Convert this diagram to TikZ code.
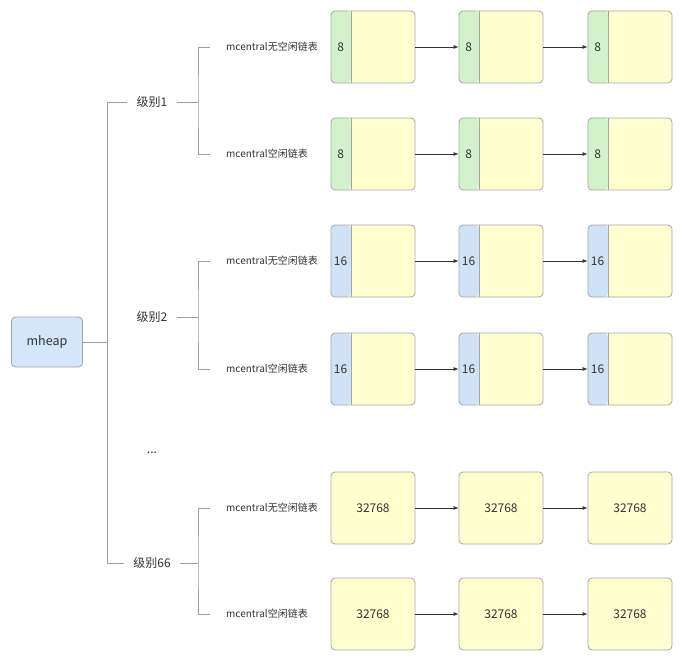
\documentclass[tikz,border=0pt]{standalone}
\usepackage{fontspec}
\setmainfont{Noto Sans CJK SC}
\usetikzlibrary{arrows.meta}
\definecolor{boxfill}{HTML}{FFFFD0}
\definecolor{boxline}{HTML}{A6A6A6}
\definecolor{greenstrip}{HTML}{D2F2CB}
\definecolor{bluestrip}{HTML}{CFE2F8}
\definecolor{rootfill}{HTML}{D3E6FA}
\definecolor{treeline}{HTML}{9E9E9E}
\definecolor{txt}{HTML}{333333}
\tikzset{
  blk/.style={draw=boxline, fill=boxfill, rounded corners=4pt, line width=0.8pt,
    minimum width=84pt, minimum height=72pt, inner sep=0pt, text=txt,
    font=\fontsize{12}{14}\selectfont},
  striped/.style={blk, path picture={
    \fill[#1] (path picture bounding box.north west) rectangle
      ([xshift=20pt]path picture bounding box.south west);
    \draw[boxline, line width=0.8pt] ([xshift=20pt]path picture bounding box.north west) --
      ([xshift=20pt]path picture bounding box.south west);}},
  striplabel/.style={text=txt, inner sep=0pt, font=\fontsize{12}{14}\selectfont},
  root/.style={draw=boxline, fill=rootfill, rounded corners=4pt, line width=0.8pt,
    minimum width=71pt, minimum height=50pt, text=txt, font=\fontsize{12.5}{14}\selectfont},
  level/.style={text=txt, inner xsep=9pt, inner ysep=2pt, font=\fontsize{12}{14}\selectfont},
  listname/.style={text=txt, anchor=west, inner xsep=16pt, inner ysep=2pt,
    font=\fontsize{10}{12}\selectfont},
  tree/.style={draw=treeline, line width=0.9pt},
  link/.style={draw=black!80, line width=0.8pt, -{Latex[length=5pt,width=4pt]}},
}
\begin{document}
\begin{tikzpicture}[x=1pt, y=-1pt]
\useasboundingbox[fill=white] (0,0) rectangle (682,658);

% root and size classes
\node[root] (mheap) at (47,342) {mheap};
\node[level] (l1) at (152,102) {级别1};
\node[level] (l2) at (152,317) {级别2};
\node[level] (ldots) at (152,453) {...};
\node[level] (l66) at (152,563) {级别66};

\coordinate (trunk) at (107,342);
\coordinate (t1) at (107,102);
\coordinate (t66) at (107,563);
\coordinate (b1) at (198,102);
\coordinate (b2) at (198,317);
\coordinate (b66) at (198,563);

% list names
\node[listname] (m1) at (210,47) {mcentral无空闲链表};
\node[listname] (m2) at (210,154) {mcentral空闲链表};
\node[listname] (m3) at (210,261) {mcentral无空闲链表};
\node[listname] (m4) at (210,369) {mcentral空闲链表};
\node[listname] (m5) at (210,508) {mcentral无空闲链表};
\node[listname] (m6) at (210,614) {mcentral空闲链表};

% tree connectors
\draw[tree] (mheap.east) -- (trunk);
\draw[tree] (l1.west) -- (t1) -- (t66) -- (l66.west);
\draw[tree] (l1.east) -- (b1);
\draw[tree] (l2.east) -- (b2);
\draw[tree] (l66.east) -- (b66);
\draw[tree] (m1.west) -| (b1) |- (m2.west);
\draw[tree] (m3.west) -| (b2) |- (m4.west);
\draw[tree] (m5.west) -| (b66) |- (m6.west);

% span lists: size class 8
\foreach \r/\y in {1/47, 2/154}{
  \node[striped=greenstrip] (r\r a) at (373,\y) {};
  \node[striped=greenstrip] (r\r b) at (501,\y) {};
  \node[striped=greenstrip] (r\r c) at (630,\y) {};
  \node[striplabel] (r\r an) at ([xshift=10pt]r\r a.west) {8};
  \node[striplabel] (r\r bn) at ([xshift=10pt]r\r b.west) {8};
  \node[striplabel] (r\r cn) at ([xshift=10pt]r\r c.west) {8};
  \draw[link] (r\r a.east) -- (r\r b.west);
  \draw[link] (r\r b.east) -- (r\r c.west);
}
% size class 16
\foreach \r/\y in {3/261, 4/369}{
  \node[striped=bluestrip] (r\r a) at (373,\y) {};
  \node[striped=bluestrip] (r\r b) at (501,\y) {};
  \node[striped=bluestrip] (r\r c) at (630,\y) {};
  \node[striplabel] (r\r an) at ([xshift=10pt]r\r a.west) {16};
  \node[striplabel] (r\r bn) at ([xshift=10pt]r\r b.west) {16};
  \node[striplabel] (r\r cn) at ([xshift=10pt]r\r c.west) {16};
  \draw[link] (r\r a.east) -- (r\r b.west);
  \draw[link] (r\r b.east) -- (r\r c.west);
}
% size class 32768
\foreach \r/\y in {5/508, 6/614}{
  \node[blk] (r\r a) at (373,\y) {32768};
  \node[blk] (r\r b) at (501,\y) {32768};
  \node[blk] (r\r c) at (630,\y) {32768};
  \draw[link] (r\r a.east) -- (r\r b.west);
  \draw[link] (r\r b.east) -- (r\r c.west);
}
\end{tikzpicture}
\end{document}
